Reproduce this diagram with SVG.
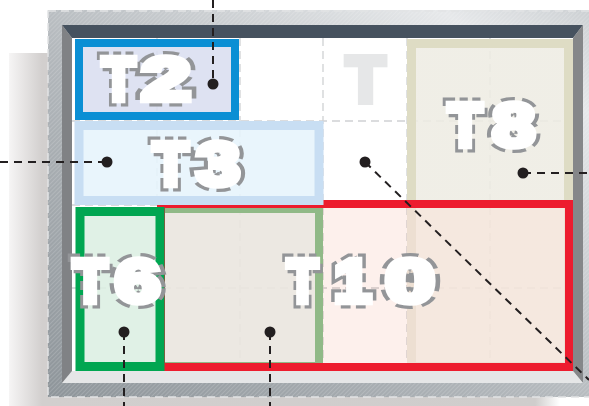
<svg xmlns="http://www.w3.org/2000/svg" xmlns:xlink="http://www.w3.org/1999/xlink" width="589" height="406" viewBox="0 0 589 406">
<style>
.lbl{font-family:"Liberation Sans",Arial,sans-serif;font-weight:bold;font-size:62px;}
.rim{fill:#fff;stroke:#939598;stroke-width:13;stroke-dasharray:9 5;stroke-linejoin:miter;}
.face{fill:#fff;stroke:#fff;stroke-width:6.5;stroke-linejoin:miter;}
.grid{stroke:#cfd1d3;stroke-width:1.3;stroke-dasharray:8 5;fill:none;}
.con{stroke:#231f20;stroke-width:2;stroke-dasharray:8 6;fill:none;}
.dot{fill:#231f20;}
</style>
<defs>
<pattern id="hatch" width="3" height="3" patternUnits="userSpaceOnUse" patternTransform="rotate(45)">
<line x1="0" y1="0" x2="0" y2="3" stroke="#ffffff" stroke-opacity="0.3" stroke-width="1"/>
</pattern>
<linearGradient id="metal" x1="0" y1="1" x2="1" y2="0">
<stop offset="0" stop-color="#8e959a"/>
<stop offset="0.45" stop-color="#b3b8bc"/>
<stop offset="0.85" stop-color="#e6e8ea"/>
<stop offset="1" stop-color="#c9cdd0"/>
</linearGradient>
<linearGradient id="shadow" x1="9" y1="0" x2="560" y2="0" gradientUnits="userSpaceOnUse">
<stop offset="0" stop-color="#f6f5f5"/>
<stop offset="0.06" stop-color="#d2cfce"/>
<stop offset="0.955" stop-color="#cfcdcc"/>
<stop offset="1" stop-color="#ffffff"/>
</linearGradient>
<linearGradient id="t8fill" x1="0" y1="38" x2="0" y2="371" gradientUnits="userSpaceOnUse">
<stop offset="0.5" stop-color="#eeece3"/>
<stop offset="0.5" stop-color="#f5f5ef"/>
</linearGradient>
<linearGradient id="t8stroke" x1="0" y1="38" x2="0" y2="371" gradientUnits="userSpaceOnUse">
<stop offset="0.5" stop-color="#dedcc4"/>
<stop offset="0.5" stop-color="#eeede3"/>
</linearGradient>
</defs>
<rect width="589" height="406" fill="#fff"/>
<g id="frame">
<rect x="9" y="53" width="551" height="353" fill="url(#shadow)"/>
<rect x="48" y="10" width="560" height="387" fill="url(#metal)"/>
<rect x="48" y="10" width="560" height="387" fill="url(#hatch)"/>
<rect x="48" y="11" width="560" height="386" fill="none" stroke="#e2e4e5" stroke-width="1.5" stroke-dasharray="8 5"/>
<polygon points="62,25 583,25 573,38 72,38" fill="#46525f"/>
<polygon points="62,25 72,38 72,371 62,383" fill="#808285"/>
<polygon points="583,25 583,383 573,371 573,38" fill="#858789"/>
<polygon points="62,383 72,371 573,371 583,383" fill="#e5e6e7"/>
<rect x="72" y="38" width="501" height="333" fill="#ffffff"/>
</g>
<g id="grid">
<line class="grid" x1="157" y1="38" x2="157" y2="205"/>
<line class="grid" x1="240" y1="38" x2="240" y2="371"/>
<line class="grid" x1="323" y1="38" x2="323" y2="371"/>
<line class="grid" x1="407" y1="38" x2="407" y2="371"/>
<line class="grid" x1="490" y1="38" x2="490" y2="371"/>
<line class="grid" x1="72" y1="121" x2="573" y2="121"/>
<line class="grid" x1="72" y1="205" x2="573" y2="205"/>
<line class="grid" x1="72" y1="288" x2="573" y2="288"/>
</g>
<g id="T8">
<rect x="411.5" y="43.5" width="157" height="323" fill="url(#t8fill)" fill-opacity="0.88" stroke="url(#t8stroke)" stroke-width="9"/>
</g>
<g id="tile">
<rect x="161" y="209" width="158" height="157" fill="#eaf5f3" fill-opacity="0.9" stroke="#86c28f" stroke-width="8"/>
</g>
<g id="T10">
<rect x="161" y="204" width="408" height="163" fill="#eb6941" fill-opacity="0.1" stroke="#ed1c2e" stroke-width="8"/>
</g>
<g id="T2">
<rect x="79" y="43" width="156" height="73" fill="#d9def0" fill-opacity="0.88" stroke="#0b8fd4" stroke-width="8"/>
</g>
<g id="T3">
<rect x="79" y="125.5" width="240" height="75" fill="#e6f4fc" fill-opacity="0.88" stroke="#c8def3" stroke-width="9"/>
</g>
<g id="T6">
<rect x="80" y="211.5" width="80" height="155" fill="#dcefe2" fill-opacity="0.88" stroke="#00a651" stroke-width="9"/>
</g>
<g id="T">
<text x="365.5" y="102" text-anchor="middle" font-family="Liberation Sans, Arial, sans-serif" font-weight="bold" font-size="64" fill="#e6e7e8" stroke="#e6e7e8" stroke-width="6">T</text>
</g>
<g id="labels">
<use xlink:href="#lT2" href="#lT2" class="rim"/>
<use xlink:href="#lT3" href="#lT3" class="rim"/>
<use xlink:href="#lT8" href="#lT8" class="rim"/>
<use xlink:href="#lT6" href="#lT6" class="rim"/>
<use xlink:href="#lT10" href="#lT10" class="rim"/>
<g class="face">
<text id="lT2" class="lbl" y="99.5"><tspan x="102" textLength="33.2" lengthAdjust="spacingAndGlyphs">T</tspan><tspan x="141.5" textLength="49.1" lengthAdjust="spacingAndGlyphs">2</tspan></text>
<text id="lT3" class="lbl" y="185"><tspan x="152.9" textLength="35.3" lengthAdjust="spacingAndGlyphs">T</tspan><tspan x="196.6" textLength="43.3" lengthAdjust="spacingAndGlyphs">3</tspan></text>
<text id="lT8" class="lbl" y="146"><tspan x="447.9" textLength="34.3" lengthAdjust="spacingAndGlyphs">T</tspan><tspan x="492.4" textLength="42.3" lengthAdjust="spacingAndGlyphs">8</tspan></text>
<text id="lT6" class="lbl" y="302"><tspan x="72.9" textLength="34.3" lengthAdjust="spacingAndGlyphs">T</tspan><tspan x="114.9" textLength="45.2" lengthAdjust="spacingAndGlyphs">6</tspan></text>
<text id="lT10" class="lbl" y="302"><tspan x="287" textLength="31" lengthAdjust="spacingAndGlyphs">T</tspan><tspan x="334" textLength="37.2" lengthAdjust="spacingAndGlyphs">1</tspan><tspan x="385.6" textLength="49.1" lengthAdjust="spacingAndGlyphs">0</tspan></text>
</g>
</g>
<g id="connectors">
<line class="con" x1="213" y1="0" x2="213" y2="84"/>
<line class="con" x1="0" y1="162" x2="107" y2="162"/>
<line class="con" x1="365" y1="162" x2="589" y2="380"/>
<line class="con" x1="523" y1="173" x2="589" y2="173"/>
<line class="con" x1="124" y1="332" x2="124" y2="406"/>
<line class="con" x1="270" y1="332" x2="270" y2="406"/>
<circle class="dot" cx="213" cy="84" r="5.5"/>
<circle class="dot" cx="107" cy="162" r="5.5"/>
<circle class="dot" cx="365" cy="162" r="5.5"/>
<circle class="dot" cx="523" cy="173" r="5.5"/>
<circle class="dot" cx="124" cy="332" r="5.5"/>
<circle class="dot" cx="270" cy="332" r="5.5"/>
</g>
</svg>
